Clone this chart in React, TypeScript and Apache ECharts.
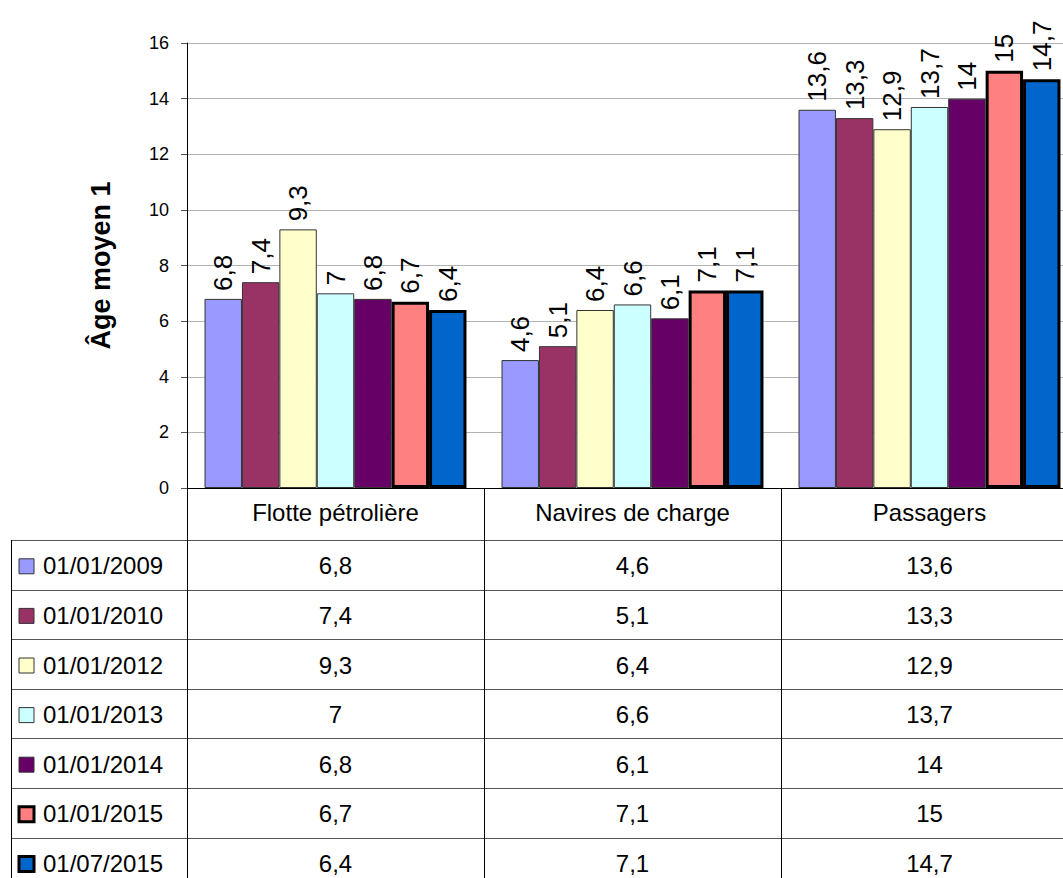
import React, { useEffect, useRef } from "react";
import * as echarts from "echarts";

const categories = ["Flotte pétrolière", "Navires de charge", "Passagers"];
const seriesNames = [
  "01/01/2009",
  "01/01/2010",
  "01/01/2012",
  "01/01/2013",
  "01/01/2014",
  "01/01/2015",
  "01/07/2015",
];
const v2009 = [6.8, 4.6, 13.6];
const v2010 = [7.4, 5.1, 13.3];
const v2012 = [9.3, 6.4, 12.9];
const v2013 = [7, 6.6, 13.7];
const v2014 = [6.8, 6.1, 14];
const v2015 = [6.7, 7.1, 15];
const v201507 = [6.4, 7.1, 14.7];
const seriesValues = [v2009, v2010, v2012, v2013, v2014, v2015, v201507];
const colors = ["#9999ff", "#993366", "#ffffcc", "#ccffff", "#660066", "#ff8080", "#0066cc"];
const thick = [false, false, false, false, false, true, true];
const yTitle = "Âge moyen 1";

const FONT = '"Liberation Sans", Arial, sans-serif';
const fmt = (v: number) => String(v).replace(".", ",");

const CHART_W = 1078;
const CHART_H = 878;

export default function App() {
  const ref = useRef<HTMLDivElement>(null);
  useEffect(() => {
    if (!ref.current) return;
    const chart = echarts.init(ref.current, null, { renderer: "svg" });
    const gridLeft = 187;
    const gridTop = 43;
    const axisY = 488;
    chart.setOption({
      animation: false,
      textStyle: { fontFamily: FONT },
      grid: { left: gridLeft, top: gridTop, right: 0, bottom: CHART_H - axisY, containLabel: false },
      xAxis: {
        type: "category",
        data: categories,
        axisLine: { show: true, lineStyle: { color: "#000", width: 1 } },
        axisTick: { show: true, length: 52, lineStyle: { color: "#000", width: 1 } },
        axisLabel: { color: "#000", fontSize: 24, margin: 12, fontFamily: FONT },
        splitLine: { show: false },
      },
      yAxis: {
        type: "value",
        min: 0,
        max: 16,
        interval: 2,
        name: yTitle,
        nameLocation: "middle",
        nameRotate: 90,
        nameGap: 73,
        nameTextStyle: { fontSize: 27, fontWeight: "bold", color: "#000", fontFamily: FONT },
        axisLine: { show: true, lineStyle: { color: "#000", width: 1 } },
        axisTick: { show: true, length: 6, lineStyle: { color: "#555", width: 1 } },
        axisLabel: {
          color: "#000",
          fontSize: 18,
          margin: 18,
          fontFamily: '"Liberation Sans Narrow", "Arial Narrow", ' + FONT,
        },
        splitLine: { show: true, lineStyle: { color: "#b3b3b3", width: 1 } },
      },
      series: seriesNames.map((name, i) => ({
        name,
        type: "bar",
        data: seriesValues[i],
        barGap: "0%",
        barCategoryGap: "11.8%",
        itemStyle: {
          color: colors[i],
          borderColor: thick[i] ? "#000" : "#333",
          borderWidth: thick[i] ? 3 : 1,
        },
        label: {
          show: true,
          position: "top",
          rotate: 90,
          align: "left",
          verticalAlign: "middle",
          distance: 8,
          fontSize: 26,
          color: "#000",
          fontFamily: FONT,
          formatter: (p: any) => fmt(p.value),
        },
      })),
    });

    const colX = categories.map((c) => chart.convertToPixel({ xAxisIndex: 0 }, c) as number);
    const bounds = [187, 484, 781];
    const tableTop = 540;
    const rowH = 49.6;
    const tableLeft = 11;
    const graphics: any[] = [];
    for (let r = 0; r <= seriesNames.length; r++) {
      const y = Math.round(tableTop + r * rowH) + 0.5;
      graphics.push({
        type: "line",
        shape: { x1: tableLeft, y1: y, x2: CHART_W, y2: y },
        style: { stroke: "#555", lineWidth: 1 },
        silent: true,
      });
    }
    graphics.push({
      type: "line",
      shape: { x1: tableLeft + 0.5, y1: tableTop, x2: tableLeft + 0.5, y2: CHART_H },
      style: { stroke: "#000", lineWidth: 1 },
      silent: true,
    });
    bounds.forEach((x) => {
      graphics.push({
        type: "line",
        shape: { x1: x + 0.5, y1: tableTop, x2: x + 0.5, y2: CHART_H },
        style: { stroke: "#000", lineWidth: 1 },
        silent: true,
      });
    });
    seriesNames.forEach((name, r) => {
      const cy = tableTop + r * rowH + rowH / 2 + 1;
      graphics.push({
        type: "rect",
        shape: { x: 19, y: cy - 7, width: 15, height: 15 },
        style: { fill: colors[r], stroke: thick[r] ? "#000" : "#333", lineWidth: thick[r] ? 3 : 1 },
        silent: true,
      });
      graphics.push({
        type: "text",
        style: {
          text: name,
          x: 43,
          y: cy,
          fontSize: 24,
          fontFamily: FONT,
          fill: "#000",
          align: "left",
          verticalAlign: "middle",
        },
        silent: true,
      });
      seriesValues[r].forEach((v, c) => {
        graphics.push({
          type: "text",
          style: {
            text: fmt(v),
            x: colX[c],
            y: cy,
            fontSize: 24,
            fontFamily: FONT,
            fill: "#000",
            align: "center",
            verticalAlign: "middle",
          },
          silent: true,
        });
      });
    });
    chart.setOption({ graphic: graphics });
    return () => chart.dispose();
  }, []);
  return (
    <div
      style={{
        position: "fixed",
        left: 0,
        top: 0,
        width: 1063,
        height: CHART_H,
        overflow: "hidden",
        background: "#fff",
      }}
    >
      <div ref={ref} style={{ width: CHART_W, height: CHART_H }} />
    </div>
  );
}
